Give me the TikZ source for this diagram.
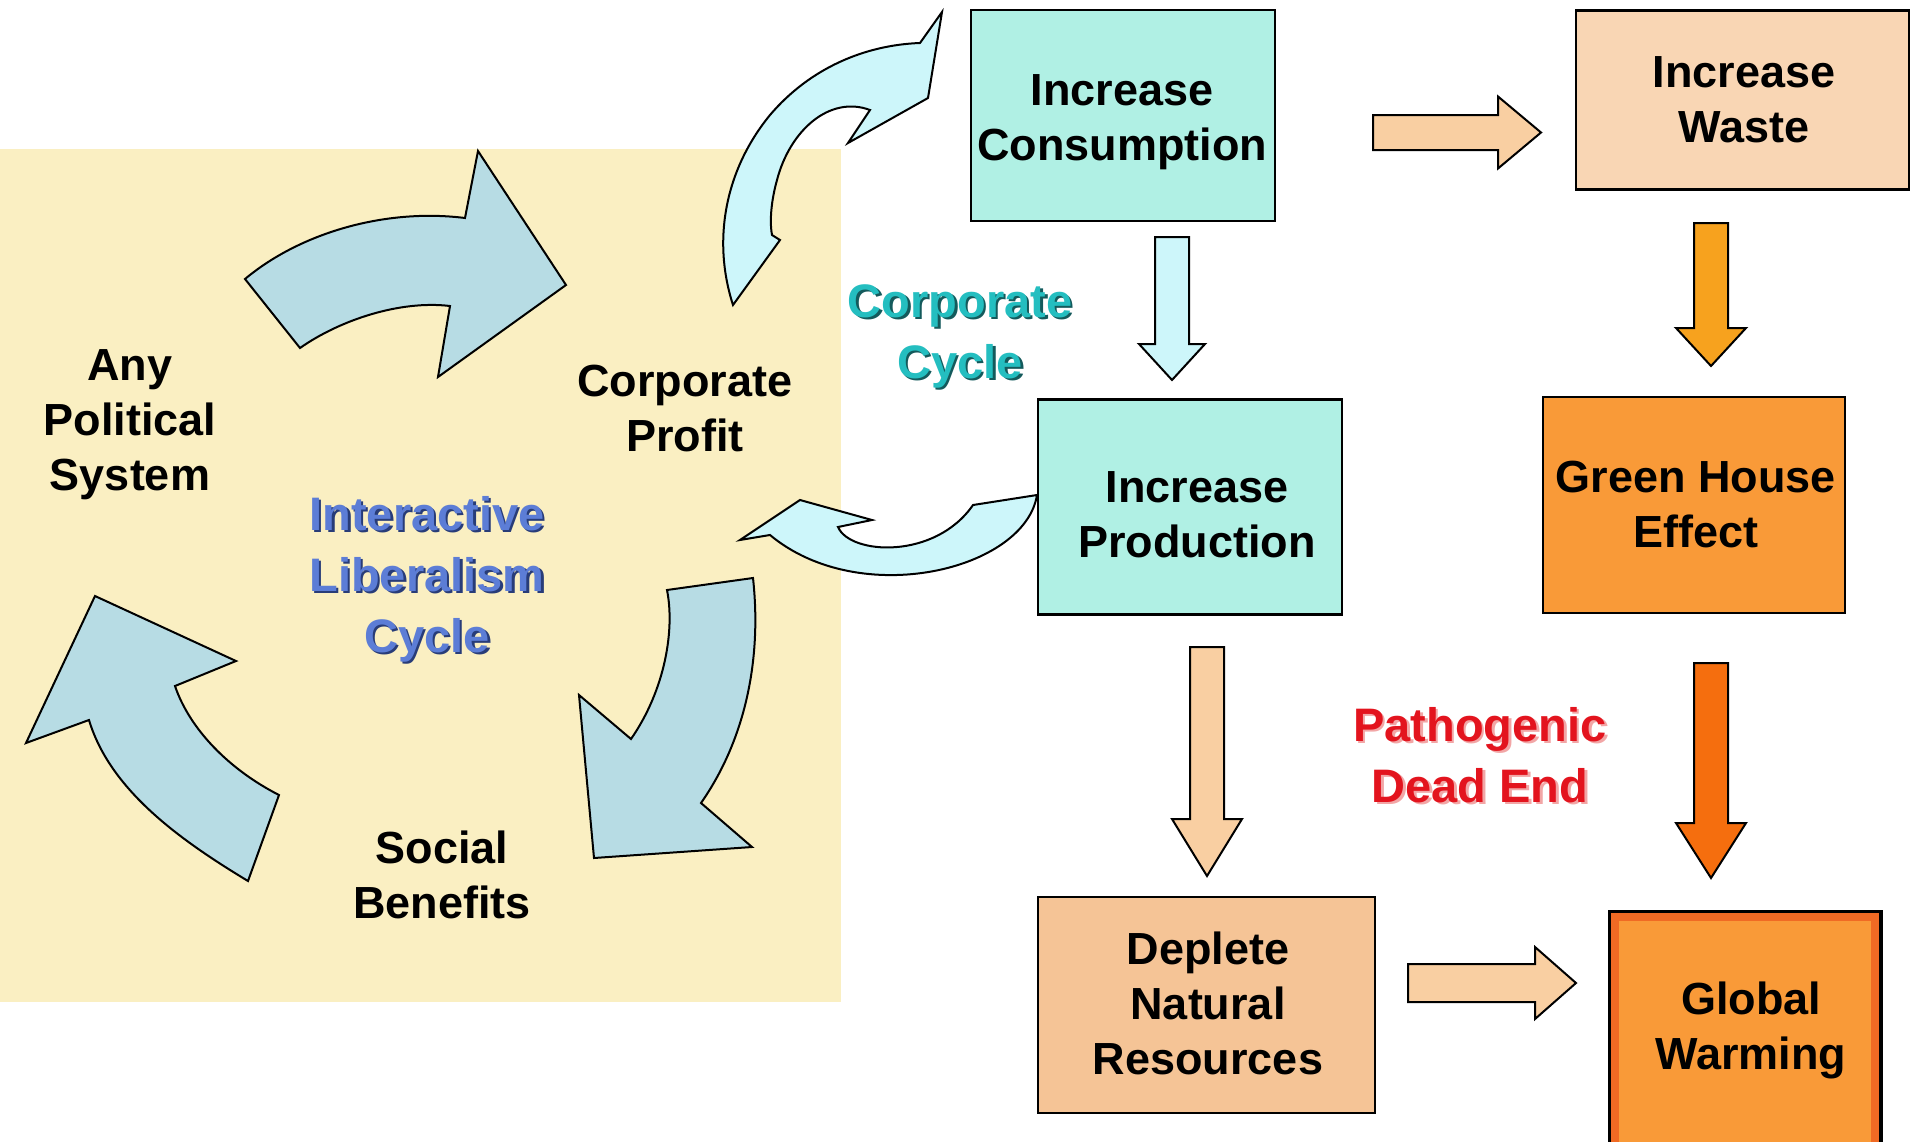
\documentclass[tikz,border=0pt]{standalone}
\usepackage{fontspec}
\setmainfont{Liberation Sans}
\definecolor{panel}{HTML}{FAEFC2}
\definecolor{cycblue}{HTML}{B7DCE4}
\definecolor{palecyan}{HTML}{CDF6FA}
\definecolor{aqua}{HTML}{B0F0E4}
\definecolor{peachlt}{HTML}{F9D6B4}
\definecolor{peach}{HTML}{F5C496}
\definecolor{peacharrow}{HTML}{F9CFA2}
\definecolor{orangebox}{HTML}{F99A38}
\definecolor{orangeband}{HTML}{F06A24}
\definecolor{amber}{HTML}{F7A21E}
\definecolor{deeporange}{HTML}{F56E0E}
\definecolor{libblue}{HTML}{5C7DD6}
\definecolor{libshadow}{HTML}{283C78}
\definecolor{teal}{HTML}{24BEC0}
\definecolor{tealshadow}{HTML}{145A5C}
\definecolor{alarm}{HTML}{E3141E}
\definecolor{alarmshadow}{HTML}{F2A6A6}

% block arrow pointing down: style, x, y top, y tip, shaft half width, head half width, head length
\newcommand{\blkdown}[7]{%
  \filldraw[#1] (#2-#5,#3) -- (#2+#5,#3) -- (#2+#5,#4-#7) -- (#2+#6,#4-#7)
    -- (#2,#4) -- (#2-#6,#4-#7) -- (#2-#5,#4-#7) -- cycle;}
% block arrow pointing right: style, y, x left, x tip, shaft half width, head half width, head length
\newcommand{\blkright}[7]{%
  \filldraw[#1] (#3,#2-#5) -- (#4-#7,#2-#5) -- (#4-#7,#2-#6) -- (#4,#2)
    -- (#4-#7,#2+#6) -- (#4-#7,#2+#5) -- (#3,#2+#5) -- cycle;}

\begin{document}
\begin{tikzpicture}[x=1pt,y=-1pt,
  lbl/.style={font=\fontsize{45}{55}\selectfont\bfseries, align=center, inner sep=0pt},
  biglbl/.style={font=\fontsize{47}{61}\selectfont\bfseries, align=center, inner sep=0pt},
  box/.style={draw=black, line width=2.5pt, inner sep=0pt},
  shape outline/.style={draw=black, line width=2pt, line join=miter},
]
\useasboundingbox (0,0) rectangle (1911,1141);

% panel of the liberalism cycle
\fill[panel] (0,149) rectangle (841,1002);

% ---- liberalism cycle arrows ----
\filldraw[shape outline, fill=cycblue]
  (245,279) .. controls (300,233) and (385,208) .. (465,218)
  -- (478,151) -- (566,285) -- (438,377) -- (450,306)
  .. controls (400,300) and (340,320) .. (300,348) -- cycle;
\filldraw[shape outline, fill=cycblue]
  (667,590) -- (753,578) .. controls (762,660) and (745,740) .. (701,803)
  -- (752,847) -- (594,858) -- (579,695) -- (631,739)
  .. controls (665,690) and (675,630) .. (667,590) -- cycle;
\filldraw[shape outline, fill=cycblue]
  (95,596) -- (236,661) -- (175,686)
  .. controls (190,730) and (230,770) .. (279,795)
  -- (248,881) .. controls (180,840) and (110,790) .. (89,720)
  -- (26,743) -- cycle;

% ---- corporate cycle curved arrows ----
\filldraw[shape outline, fill=palecyan]
  (733,305) .. controls (712,240) and (725,170) .. (770,115)
  .. controls (810,68) and (865,45) .. (920,43)
  -- (942,12) -- (928,98) -- (848,143) -- (870,110)
  .. controls (830,95) and (790,130) .. (777,180)
  .. controls (770,205) and (770,225) .. (772,235)
  -- (780,240) -- cycle;
\filldraw[shape outline, fill=palecyan]
  (740,540) -- (800,500) -- (872,520) -- (838,527)
  .. controls (850,555) and (935,560) .. (973,505)
  -- (1037,495) .. controls (1025,570) and (860,610) .. (770,535)
  -- cycle;

% ---- boxes ----
\node[box, fill=aqua, minimum width=304, minimum height=211] (cons) at (1123,115.5) {};
\node[box, fill=peachlt, minimum width=333, minimum height=179] (waste) at (1742.5,100) {};
\node[box, fill=aqua, minimum width=304, minimum height=215] (prod) at (1190,507) {};
\node[box, fill=orangebox, minimum width=302, minimum height=216] (green) at (1694,505) {};
\node[box, fill=peach, minimum width=337, minimum height=216] (deplete) at (1206.5,1005) {};
\node[box, fill=orangeband, minimum width=270, minimum height=240] (global) at (1745,1032) {};
\fill[orangebox] ([shift={(10,-10)}]global.south west) rectangle ([shift={(-10,10)}]global.north east);
\draw[black, line width=2.5pt] (global.south west) rectangle (global.north east);

\node[lbl] (constext) at (1122,122) {Increase\\Consumption};
\node[lbl] (wastetext) at (1744,100) {Increase\\Waste};
\node[lbl] (prodtext) at (1197,515) {Increase\\Production};
\node[lbl] (greentext) at (1696,504) {Green House\\Effect};
\node[lbl] (depletetext) at (1208,1003) {Deplete\\Natural\\Resources};
\node[lbl] (globaltext) at (1751,1030) {Global\\Warming};

% ---- block arrows ----
\blkright{shape outline, fill=peacharrow}{132.5}{1373}{1541}{17.5}{36}{43}
\blkdown{shape outline, fill=palecyan}{1172}{237}{380}{17}{33}{36}
\blkdown{shape outline, fill=amber}{1711}{223}{366}{17}{35}{38}
\blkdown{shape outline, fill=peacharrow}{1207}{647}{876}{17}{35}{57}
\blkdown{shape outline, fill=deeporange}{1711}{663}{878}{17}{35}{55}
\blkright{shape outline, fill=peacharrow}{983}{1408}{1576}{19}{36}{41}

% ---- labels ----
\node[lbl] (polsys) at (130,425) {Any\\Political\\System};
\node[lbl] (profit) at (685,409) {Corporate\\Profit};
\node[lbl] (social) at (442,875) {Social\\Benefits};

\node[biglbl, text=libshadow] (libshade) at (429.5,581.5) {Interactive\\Liberalism\\Cycle};
\node[biglbl, text=libblue] (libcycle) at (427,579) {Interactive\\Liberalism\\Cycle};

\node[biglbl, text=tealshadow] (corpshade) at (962.5,338.5) {Corporate\\Cycle};
\node[biglbl, text=teal] (corpcycle) at (960,336) {Corporate\\Cycle};

\node[biglbl, text=alarmshadow] (deadshade) at (1482.5,757.5) {Pathogenic\\Dead End};
\node[biglbl, text=alarm] (deadend) at (1480,755) {Pathogenic\\Dead End};
\end{tikzpicture}
\end{document}
